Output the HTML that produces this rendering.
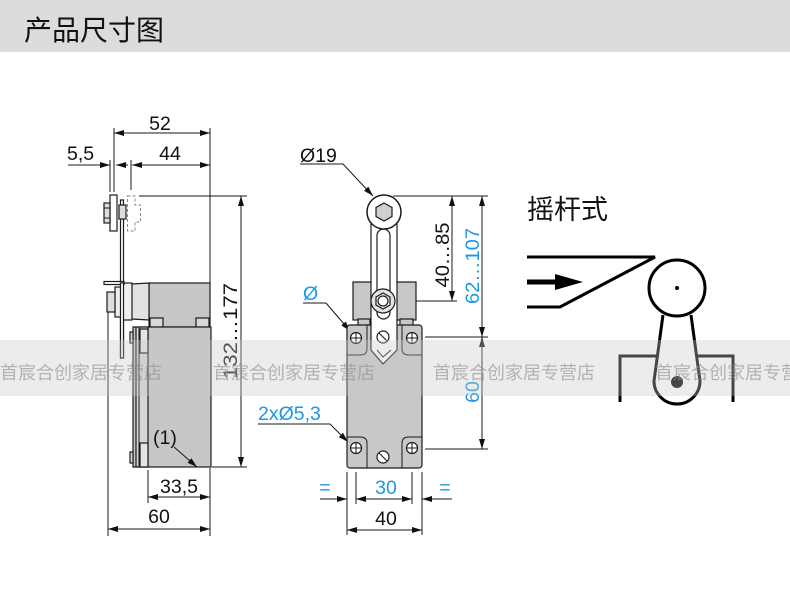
<!DOCTYPE html>
<html><head><meta charset="utf-8">
<style>
html,body{margin:0;padding:0;background:#fff;}
body{width:790px;height:612px;overflow:hidden;}
svg{display:block;}
.t{font-family:"Liberation Sans",Arial,sans-serif;font-size:19.5px;fill:#111;}
.b{fill:#1c98e3;}
.ln{stroke:#1a1a1a;stroke-width:1;fill:none;}
.o{stroke:#1a1a1a;stroke-width:1.2;}
.s{stroke:#000;stroke-width:3;fill:none;}
</style></head>
<body>
<svg width="790" height="612" viewBox="0 0 790 612" xmlns="http://www.w3.org/2000/svg">
<defs>
<marker id="a" viewBox="0 0 10 6" refX="10" refY="3" markerWidth="10" markerHeight="6" markerUnits="userSpaceOnUse" orient="auto-start-reverse"><path d="M0,0L10,3L0,6z" fill="#111"/></marker>
</defs>
<rect x="0" y="0" width="790" height="612" fill="#fff"/>
<!-- header -->
<rect x="0" y="0" width="790" height="52" fill="#dcdcdc"/>
<text x="24" y="40" style="font-family:'Liberation Sans','Noto Sans CJK SC',sans-serif;font-size:28px;fill:#111;">产品尺寸图</text>

<!-- ============ LEFT SIDE VIEW ============ -->
<g class="ln">
<line x1="114" y1="128" x2="114" y2="192"/>
<line x1="110" y1="160" x2="110" y2="192"/>
<line x1="131" y1="160" x2="131" y2="190"/>
<line x1="210" y1="128" x2="210" y2="283"/>
<line x1="114" y1="133" x2="210" y2="133" marker-start="url(#a)" marker-end="url(#a)"/>
<line x1="68" y1="165" x2="110" y2="165" marker-end="url(#a)"/>
<line x1="128" y1="165" x2="116" y2="165" marker-end="url(#a)"/>
<line x1="132" y1="165" x2="210" y2="165" marker-start="url(#a)" marker-end="url(#a)"/>
<line x1="139" y1="196" x2="247" y2="196"/>
<line x1="212" y1="467" x2="247" y2="467"/>
<line x1="241" y1="196" x2="241" y2="467" marker-start="url(#a)" marker-end="url(#a)"/>
<line x1="108" y1="305" x2="108" y2="536"/>
<line x1="148" y1="470" x2="148" y2="503"/>
<line x1="210" y1="468" x2="210" y2="536"/>
<line x1="148" y1="497" x2="210" y2="497" marker-start="url(#a)" marker-end="url(#a)"/>
<line x1="108" y1="529" x2="210" y2="529" marker-start="url(#a)" marker-end="url(#a)"/>
</g>

<!-- lever and roller (side) -->
<rect x="120.5" y="200" width="3" height="158" fill="#fff" class="o"/>
<rect x="110" y="195" width="7" height="36" fill="#fff" class="o"/>
<rect x="104" y="203" width="6" height="20" fill="#ddd" class="o"/>
<line x1="104" y1="208" x2="110" y2="208" class="ln"/><line x1="104" y1="218" x2="110" y2="218" class="ln"/>
<rect x="119" y="205" width="7" height="14" fill="#ddd" class="o"/>
<path d="M127.5,196 L135,196 L135,205 L140.5,205 L140.5,222 L135,222 L135,231 L127.5,231 Z" fill="none" stroke="#888" stroke-width="1" stroke-dasharray="3,2"/>

<!-- head (side) -->
<rect x="149" y="283" width="61" height="44" fill="#c6c6c6" class="o"/>
<rect x="150" y="318" width="13" height="9" fill="#d8d8d8" class="o"/>
<rect x="196" y="318" width="13" height="9" fill="#d8d8d8" class="o"/>
<path d="M132,284 L149,283 L149,320 L132,319 Q129,301 132,284 Z" fill="#e2e2e2" class="o"/>
<rect x="123" y="283" width="9" height="37" fill="#eee" class="o"/>
<rect x="115" y="287" width="8" height="30" fill="#eee" class="o"/>
<rect x="104" y="281.5" width="20" height="3" fill="#fff" class="o"/>
<rect x="107" y="292" width="8" height="20" fill="#ddd" class="o"/>
<rect x="120.5" y="283" width="3" height="75" fill="#fff" class="o"/>

<!-- lower body (side) -->
<rect x="133" y="327" width="78" height="140" fill="#c6c6c6" class="o"/>
<rect x="136" y="327" width="12" height="140" fill="#d6d6d6" class="o"/>
<line x1="139" y1="327" x2="139" y2="467" class="ln"/>
<rect x="140" y="329" width="8" height="24" fill="#e4e4e4" class="o"/>
<rect x="140" y="443" width="8" height="24" fill="#e4e4e4" class="o"/>
<rect x="130" y="332" width="3" height="11" fill="#ddd" class="o"/>
<rect x="130" y="452" width="3" height="11" fill="#ddd" class="o"/>
<line x1="174" y1="447" x2="197" y2="467" class="ln" marker-end="url(#a)"/>

<!-- ============ MIDDLE FRONT VIEW ============ -->
<g class="ln">
<line x1="300" y1="164" x2="343" y2="164"/>
<line x1="343" y1="164" x2="373" y2="196" marker-end="url(#a)"/>
<line x1="303" y1="303" x2="326" y2="303"/>
<line x1="326" y1="303" x2="350" y2="331" marker-end="url(#a)"/>
<line x1="258" y1="424" x2="330" y2="424"/>
<line x1="330" y1="424" x2="348" y2="442" marker-end="url(#a)"/>
<line x1="393" y1="196" x2="488" y2="196"/>
<line x1="400" y1="301" x2="457" y2="301"/>
<line x1="425" y1="337" x2="488" y2="337"/>
<line x1="425" y1="449" x2="488" y2="449"/>
<line x1="452" y1="196" x2="452" y2="301" marker-start="url(#a)" marker-end="url(#a)"/>
<line x1="482" y1="196" x2="482" y2="337" marker-start="url(#a)" marker-end="url(#a)"/>
<line x1="482" y1="337" x2="482" y2="449" marker-start="url(#a)" marker-end="url(#a)"/>
<line x1="347" y1="472" x2="347" y2="535"/>
<line x1="422" y1="472" x2="422" y2="535"/>
<line x1="356" y1="472" x2="356" y2="504"/>
<line x1="412" y1="472" x2="412" y2="504"/>
<line x1="320" y1="499" x2="347" y2="499" marker-end="url(#a)"/>
<line x1="356" y1="499" x2="412" y2="499" marker-start="url(#a)" marker-end="url(#a)"/>
<line x1="452" y1="499" x2="422" y2="499" marker-end="url(#a)"/>
<line x1="347" y1="530" x2="422" y2="530" marker-start="url(#a)" marker-end="url(#a)"/>
</g>

<!-- head body -->
<rect x="353" y="282" width="63" height="38" fill="#c8c8c8" class="o"/>
<rect x="358" y="319" width="12" height="7" fill="#c8c8c8" class="o"/>
<rect x="400" y="319" width="13" height="7" fill="#c8c8c8" class="o"/>
<!-- main body -->
<rect x="347" y="325" width="75" height="143" rx="3" fill="#c8c8c8" class="o"/>
<path d="M367,325 L367,349 Q367,355 360,355 L347,355" class="ln"/>
<path d="M402,325 L402,349 Q402,355 409,355 L422,355" class="ln"/>
<path d="M367,468 L367,443 Q367,437 360,437 L347,437" class="ln"/>
<path d="M402,468 L402,443 Q402,437 409,437 L422,437" class="ln"/>
<!-- arm -->
<path d="M371,215 L371,350 L383,364 L397,350 L397,215 Z" fill="#fff" class="o"/>
<path d="M377,350 L383,357 L391,350" class="ln"/>
<rect x="377" y="229" width="13" height="90" rx="6.5" fill="#fff" class="o"/>
<!-- roller -->
<circle cx="384" cy="212" r="17" fill="#fff" stroke="#1a1a1a" stroke-width="1.5"/>
<polygon points="384,203 392,207.5 392,216.5 384,221 376,216.5 376,207.5" fill="#d0d0d0" class="o"/>
<!-- pivot -->
<circle cx="383" cy="301" r="12" fill="#e2e2e2" class="o"/>
<polygon points="383,293 390,297 390,305 383,309 376,305 376,297" fill="#f2f2f2" class="o"/>
<circle cx="383" cy="301" r="5" fill="#fff" class="o"/>
<!-- screws -->
<circle cx="383" cy="337" r="6" fill="#fff" class="o"/>
<line x1="379" y1="333" x2="387" y2="341" class="ln" stroke-width="2"/>
<circle cx="383" cy="457" r="6" fill="#fff" class="o"/>
<line x1="379" y1="453" x2="387" y2="461" class="ln" stroke-width="2"/>
<!-- holes -->
<g>
<circle cx="356" cy="338" r="5.5" fill="#fff" class="o"/><line x1="350" y1="338" x2="362" y2="338" class="ln"/><line x1="356" y1="332" x2="356" y2="344" class="ln"/>
<circle cx="412" cy="338" r="5.5" fill="#fff" class="o"/><line x1="406" y1="338" x2="418" y2="338" class="ln"/><line x1="412" y1="332" x2="412" y2="344" class="ln"/>
<circle cx="356" cy="448" r="5.5" fill="#fff" class="o"/><line x1="350" y1="448" x2="362" y2="448" class="ln"/><line x1="356" y1="442" x2="356" y2="454" class="ln"/>
<circle cx="412" cy="448" r="5.5" fill="#fff" class="o"/><line x1="406" y1="448" x2="418" y2="448" class="ln"/><line x1="412" y1="442" x2="412" y2="454" class="ln"/>
</g>

<!-- ============ RIGHT SCHEMATIC ============ -->
<text x="527" y="219" style="font-family:'Liberation Sans','Noto Sans CJK SC',sans-serif;font-size:27px;fill:#111;">摇杆式</text>
<path d="M527,257 L655,257 L560,307 L527,307" class="s" stroke-linejoin="miter"/>
<line x1="527" y1="282" x2="560" y2="282" stroke="#000" stroke-width="5"/>
<polygon points="555,274 583,282 555,290" fill="#000"/>
<circle cx="677" cy="288" r="28" class="s"/>
<circle cx="677" cy="288" r="2" fill="#000"/>
<path d="M620,402 L620,356 L657,356" class="s"/>
<path d="M697,356 L733,356 L733,402" class="s"/>
<path d="M663,315 L654,381 A23,23 0 0 0 700,381 L691,315" class="s"/>
<circle cx="677" cy="382" r="6" fill="#000"/>

<!-- ============ TEXT LABELS ============ -->
<text class="t" x="160" y="130" text-anchor="middle">52</text>
<text class="t" x="67" y="160">5,5</text>
<text class="t" x="170" y="160" text-anchor="middle">44</text>
<text class="t" transform="translate(237,331) rotate(-90)" text-anchor="middle" textLength="96" lengthAdjust="spacingAndGlyphs">132…177</text>
<text class="t" x="179" y="493" text-anchor="middle">33,5</text>
<text class="t" x="159" y="523" text-anchor="middle">60</text>
<text class="t" x="153" y="444">(1)</text>

<text class="t" x="300" y="162">Ø19</text>
<text class="t b" x="303" y="300">Ø</text>
<text class="t b" x="258" y="420">2xØ5,3</text>
<text class="t" transform="translate(449,255) rotate(-90)" text-anchor="middle" textLength="65" lengthAdjust="spacingAndGlyphs">40…85</text>
<text class="t b" transform="translate(479,266) rotate(-90)" text-anchor="middle" textLength="76" lengthAdjust="spacingAndGlyphs">62…107</text>
<text class="t b" transform="translate(479,392) rotate(-90)" text-anchor="middle">60</text>
<text class="t b" x="325" y="494" text-anchor="middle">=</text>
<text class="t b" x="386" y="494" text-anchor="middle">30</text>
<text class="t b" x="445" y="494" text-anchor="middle">=</text>
<text class="t" x="386" y="525" text-anchor="middle">40</text>

<!-- watermark band -->
<rect x="0" y="340" width="790" height="56" fill="rgba(200,200,200,0.35)"/>
<g style="font-family:'Liberation Sans','Noto Sans CJK SC',sans-serif;font-size:18px;fill:rgba(140,140,140,0.6);">
<text x="0" y="379">首宸合创家居专营店</text>
<text x="213" y="379">首宸合创家居专营店</text>
<text x="433" y="379">首宸合创家居专营店</text>
<text x="655" y="379">首宸合创家居专营店</text>
</g>
</svg>
</body></html>
